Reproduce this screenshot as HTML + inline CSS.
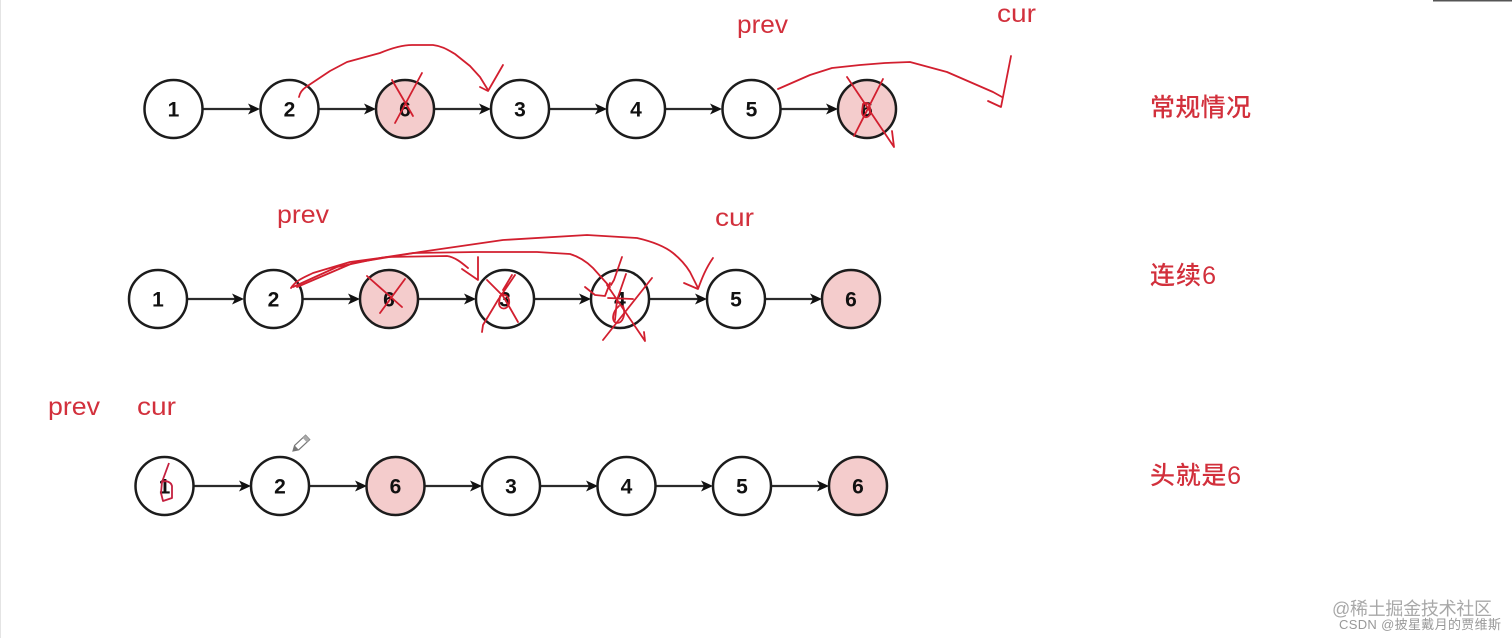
<!DOCTYPE html>
<html><head><meta charset="utf-8"><style>
html,body{margin:0;padding:0;background:#fff;width:1512px;height:638px;overflow:hidden}
svg{display:block;filter:blur(0.35px)}
.n circle{stroke:#1c1c1c;stroke-width:2.5;fill:#fff}
.n circle.p{fill:#f4cccc}
.n text{font:bold 21px "Liberation Sans",sans-serif;fill:#111;text-anchor:middle}
.a line{stroke:#2a2a2a;stroke-width:2.3}
.a path{fill:#111;stroke:none}
.r{fill:none;stroke:#d21f2f;stroke-width:1.8;stroke-linecap:round;stroke-linejoin:round}
.t{font-family:"Liberation Sans","Noto Sans CJK SC",sans-serif;fill:#d2303c;font-size:25px}
</style></head><body>
<svg width="1512" height="638" viewBox="0 0 1512 638" xmlns="http://www.w3.org/2000/svg">
<rect x="0" y="0" width="1" height="638" fill="#e4e4e4"/>
<rect x="1433" y="0" width="79" height="1.5" fill="#555"/>

<!-- Row 1 -->
<g class="a">
<line x1="203" y1="109" x2="252" y2="109"/><path d="M260 109l-12-5.5 3 5.500-3 5.500z"/>
<line x1="319" y1="109" x2="368" y2="109"/><path d="M376 109l-12-5.5 3 5.500-3 5.500z"/>
<line x1="434" y1="109" x2="483" y2="109"/><path d="M491 109l-12-5.5 3 5.500-3 5.500z"/>
<line x1="549" y1="109" x2="599" y2="109"/><path d="M607 109l-12-5.5 3 5.500-3 5.500z"/>
<line x1="665" y1="109" x2="714" y2="109"/><path d="M722 109l-12-5.5 3 5.500-3 5.500z"/>
<line x1="781" y1="109" x2="830" y2="109"/><path d="M838 109l-12-5.5 3 5.500-3 5.500z"/>
</g>
<g class="n">
<circle cx="173.500" cy="109" r="29"/><text x="173.500" y="116.500">1</text>
<circle cx="289.500" cy="109" r="29"/><text x="289.500" y="116.500">2</text>
<circle class="p" cx="405" cy="109" r="29"/><text x="405" y="116.500">6</text>
<circle cx="520" cy="109" r="29"/><text x="520" y="116.500">3</text>
<circle cx="636" cy="109" r="29"/><text x="636" y="116.500">4</text>
<circle cx="751.500" cy="109" r="29"/><text x="751.500" y="116.500">5</text>
<circle class="p" cx="867" cy="109" r="29"/><text x="867" y="116.500">6</text>
</g>

<!-- Row 2 -->
<g class="a">
<line x1="187" y1="299" x2="236" y2="299"/><path d="M244 299l-12-5.5 3 5.500-3 5.500z"/>
<line x1="303" y1="299" x2="352" y2="299"/><path d="M360 299l-12-5.5 3 5.500-3 5.500z"/>
<line x1="418" y1="299" x2="468" y2="299"/><path d="M476 299l-12-5.5 3 5.500-3 5.500z"/>
<line x1="534" y1="299" x2="583" y2="299"/><path d="M591 299l-12-5.5 3 5.500-3 5.500z"/>
<line x1="649" y1="299" x2="699" y2="299"/><path d="M707 299l-12-5.5 3 5.500-3 5.500z"/>
<line x1="765" y1="299" x2="814" y2="299"/><path d="M822 299l-12-5.5 3 5.500-3 5.500z"/>
</g>
<g class="n">
<circle cx="158" cy="299" r="29"/><text x="158" y="306.500">1</text>
<circle cx="273.500" cy="299" r="29"/><text x="273.500" y="306.500">2</text>
<circle class="p" cx="389" cy="299" r="29"/><text x="389" y="306.500">6</text>
<circle cx="505" cy="299" r="29"/><text x="505" y="306.500">3</text>
<circle cx="620" cy="299" r="29"/><text x="620" y="306.500">4</text>
<circle cx="736" cy="299" r="29"/><text x="736" y="306.500">5</text>
<circle class="p" cx="851" cy="299" r="29"/><text x="851" y="306.500">6</text>
</g>

<!-- Row 3 -->
<g class="a">
<line x1="194" y1="486" x2="243" y2="486"/><path d="M251 486l-12-5.5 3 5.500-3 5.500z"/>
<line x1="310" y1="486" x2="359" y2="486"/><path d="M367 486l-12-5.5 3 5.500-3 5.500z"/>
<line x1="425" y1="486" x2="474" y2="486"/><path d="M482 486l-12-5.5 3 5.500-3 5.500z"/>
<line x1="540" y1="486" x2="590" y2="486"/><path d="M598 486l-12-5.5 3 5.500-3 5.500z"/>
<line x1="656" y1="486" x2="705" y2="486"/><path d="M713 486l-12-5.5 3 5.500-3 5.500z"/>
<line x1="771" y1="486" x2="821" y2="486"/><path d="M829 486l-12-5.5 3 5.500-3 5.500z"/>
</g>
<g class="n">
<circle cx="164.500" cy="486" r="29"/><text x="164.500" y="493.500">1</text>
<circle cx="280" cy="486" r="29"/><text x="280" y="493.500">2</text>
<circle class="p" cx="395.500" cy="486" r="29"/><text x="395.500" y="493.500">6</text>
<circle cx="511" cy="486" r="29"/><text x="511" y="493.500">3</text>
<circle cx="626.500" cy="486" r="29"/><text x="626.500" y="493.500">4</text>
<circle cx="742" cy="486" r="29"/><text x="742" y="493.500">5</text>
<circle class="p" cx="858" cy="486" r="29"/><text x="858" y="493.500">6</text>
</g>

<!-- Red annotations row 1 -->
<g class="r">
<path d="M299 97C300 92 303 89 306 87L330 71 347 62 380 53C392 48 402 45 412 45L433 45C442 46 448 50 455 54L470 66 480 77 488 90"/>
<path d="M503 65L488 91 480 87"/>
<path d="M392 80L413 116M422 73L395 123"/>
<path d="M778 89L810 75 832 68 860 65 885 63 910 62 947 72 993 92 1002 97"/>
<path d="M1011 56L1001 107 988 101"/>
<path d="M847 77L894 147 892 131M883 79L854 136"/>
<path d="M863 104C869 100 871 108 870 114C868 119 862 118 862 112Z"/>
</g>

<!-- Red annotations row 2 -->
<g class="r">
<path d="M291 288C296 280 305 277 313 273L350 262 387 257 447 256C455 257 462 263 468 268"/>
<path d="M478 257L478 280 462 269"/>
<path d="M293 287L337 267 380 258 413 253 477 252 537 252 570 254C580 257 587 262 593 268L610 287"/>
<path d="M610 283L605 296 595 295 585 287"/>
<path d="M297 287L353 263 420 252 503 240 587 235 637 238C650 241 663 245 673 253C683 261 687 267 690 272L698 288"/>
<path d="M713 258C706 268 702 278 698 289L684 283"/>
<path d="M367 276L402 307M405 279L380 313"/>
<path d="M487 280L503 296 510 308 518 322M515 275L498 300 483 325 482 332M512 275L503 290"/>
<path d="M500 296C506 292 510 298 509 304C507 310 500 310 499 304Z"/>
<path d="M622 257L614 280 611 285M626 274L617 300 615 320"/>
<path d="M652 278L603 340M607 285L645 341 644 332M608 298L633 299"/>
<path d="M619 306C612 312 611 322 617 323C623 323 626 314 623 306"/>
</g>

<!-- Red annotations row 3 -->
<path d="M169 463L162 482C166 480 171 482 172 486L172 498 163 501 161 493 162 482" fill="none" stroke="#c4203f" stroke-width="1.8" stroke-linejoin="round"/>

<!-- Pencil cursor -->
<g transform="translate(293 451) rotate(-43)">
<path d="M0 0L5 -3 20 -3 20 3 5 3Z" fill="#fff" stroke="#777" stroke-width="1.2"/>
<path d="M0 0L5 -3 5 3Z" fill="#777"/>
<rect x="16" y="-3" width="4" height="6" fill="#aaa"/>
</g>

<!-- Labels -->
<text class="t" x="737" y="33" textLength="51" lengthAdjust="spacingAndGlyphs">prev</text>
<text class="t" x="997" y="22" textLength="39" lengthAdjust="spacingAndGlyphs">cur</text>
<text class="t" x="277" y="223" textLength="52" lengthAdjust="spacingAndGlyphs">prev</text>
<text class="t" x="715" y="226" textLength="39" lengthAdjust="spacingAndGlyphs">cur</text>
<text class="t" x="48" y="415" textLength="52" lengthAdjust="spacingAndGlyphs">prev</text>
<text class="t" x="137" y="415" textLength="39" lengthAdjust="spacingAndGlyphs">cur</text>
<text class="t" x="1150" y="116" textLength="101" font-weight="500">常规情况</text>
<text class="t" x="1150" y="284" textLength="66" font-weight="500">连续6</text>
<text class="t" x="1150" y="484" textLength="91" font-weight="500">头就是6</text>

<!-- Watermarks -->
<text x="1332" y="615" textLength="160" style="font:18px 'Liberation Sans','Noto Sans CJK SC',sans-serif;fill:#a8a8a8">@稀土掘金技术社区</text>
<text x="1339" y="629" textLength="162" style="font:13px 'Liberation Sans','Noto Sans CJK SC',sans-serif;fill:#999">CSDN @披星戴月的贾维斯</text>
</svg>
</body></html>
